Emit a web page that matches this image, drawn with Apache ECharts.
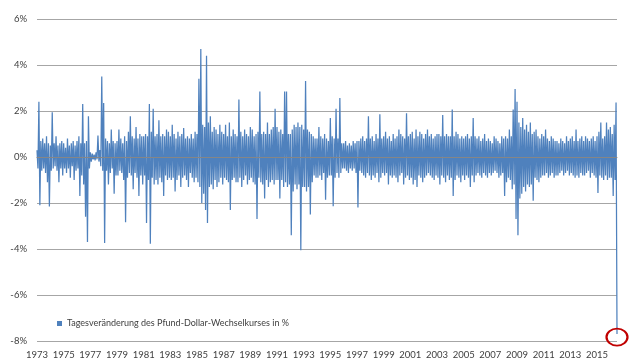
<!DOCTYPE html>
<html><head><meta charset="utf-8">
<script src="https://cdn.jsdelivr.net/npm/echarts@6/dist/echarts.min.js"></script>
<style>html,body{margin:0;padding:0;background:#fff}#c{width:640px;height:360px}</style>
</head><body><div id="c"></div>
<script>
const firstYear = 1973;
const samplesPerYear = 14;
const yearLabels = [1973,1975,1977,1979,1981,1983,1985,1987,1989,1991,1993,1995,1997,1999,2001,2003,2005,2007,2009,2011,2013,2015];
const seriesName = 'Tagesveränderung des Pfund-Dollar-Wechselkurses in %';

// daily change (%), 14 samples per year (one row per year)
const chg1970s = [
  0.3,-0.5,2.4,-2.1,0.7,-0.6,0.8,-0.5,0.6,-0.7,0.9,-1.1,0.6,-2.15,
  0.5,-0.6,1.95,-0.5,0.6,-0.4,0.9,-0.6,0.5,-1.1,0.6,-0.5,0.7,-0.8,
  0.6,-0.5,0.4,-0.7,0.8,-0.5,0.5,-0.9,0.6,-0.4,0.7,-1.0,0.5,-0.6,
  0.7,-0.5,0.9,-1.7,0.6,-0.8,2.3,-1.2,0.6,-2.6,0.7,-3.7,1.77,-0.5,
  0.2,-0.2,0.15,-0.1,0.1,-0.15,0.2,-0.1,0.93,-0.2,0.3,-0.4,3.5,-0.6,
  2.35,-3.74,0.8,-0.6,0.7,-1.2,0.6,-0.7,1.2,-0.5,0.7,-1.6,0.6,-0.8,
  0.7,-0.8,1.2,-0.6,0.8,-0.7,0.6,-1.0,0.9,-2.84,0.7,-0.9,1.1,-0.7
];
const chg1980s = [
  1.77,-0.8,0.9,-1.4,0.8,-0.7,1.3,-0.9,0.8,-1.7,1.0,-0.8,0.9,-1.2,
  0.9,-0.8,1.0,-2.87,0.9,-1.0,2.3,-3.77,1.1,-0.9,2.1,-1.2,0.9,-1.0,
  1.0,-1.2,1.6,-0.9,0.9,-1.1,1.0,-1.7,0.9,-0.8,1.2,-1.0,1.1,-0.9,
  0.9,-1.0,1.4,-0.9,1.0,-1.5,0.8,-1.0,1.1,-0.8,0.9,-1.3,1.0,-0.9,
  1.26,-0.8,0.8,-1.0,0.9,-1.3,0.8,-0.7,1.0,-0.9,0.8,-1.1,1.1,-0.9,
  1.0,-1.1,3.4,-1.3,4.7,-2.0,1.4,-1.6,1.3,-2.3,4.4,-2.87,1.5,-1.3,
  1.77,-1.2,1.1,-1.4,1.3,-1.0,1.2,-1.3,1.0,-1.1,1.4,-0.9,1.1,-1.2,
  1.0,-0.9,1.4,-1.0,0.9,-1.1,1.5,-2.3,0.9,-1.0,1.2,-0.9,1.0,-1.1,
  0.9,-1.1,2.5,-0.9,1.1,-1.3,0.9,-1.0,1.2,-0.8,1.0,-1.2,0.9,-1.0,
  1.3,-0.9,1.2,-1.1,0.9,-1.2,1.0,-2.7,1.1,-0.9,2.85,-1.1,1.0,-1.2
];
const chg1990s = [
  1.1,-1.8,1.0,-1.0,1.5,-1.3,1.0,-1.1,1.2,-1.0,1.3,-1.2,2.1,-1.0,
  1.3,-1.0,1.1,-1.8,1.2,-1.0,1.0,-1.3,2.85,-1.1,2.85,-1.3,1.0,-1.2,
  1.0,-3.4,1.2,-1.5,1.4,-1.2,1.3,-1.4,1.5,-1.2,1.3,-4.05,1.4,-1.3,
  1.2,-1.3,3.3,-1.5,1.2,-1.3,1.1,-2.5,1.0,-1.1,0.9,-0.8,0.8,-0.9,
  0.8,-0.9,1.3,-0.8,0.9,-1.0,0.8,-0.7,1.0,-1.86,0.8,-0.9,0.7,-0.8,
  1.7,-0.8,0.9,-2.14,0.8,-0.9,2.1,-0.7,0.8,-0.9,2.56,-0.7,0.6,-0.5,
  0.6,-0.5,0.7,-0.6,0.5,-0.7,0.6,-0.5,0.5,-0.6,0.7,-0.5,0.6,-0.7,
  0.7,-2.2,0.7,-0.6,0.8,-0.7,0.9,-0.8,0.7,-0.9,0.8,-0.7,1.77,-0.8,
  0.8,-1.0,0.9,-0.8,0.7,-0.9,1.0,-0.7,0.8,-1.1,1.86,-0.9,0.8,-0.7,
  0.9,-0.8,1.1,-0.7,0.8,-1.2,0.9,-0.8,0.7,-0.9,1.0,-0.8,0.8,-0.9
];
const chg2000s = [
  0.9,-1.1,1.2,-0.8,1.0,-0.7,0.9,-1.2,0.8,-0.9,1.9,-0.8,0.9,-1.0,
  1.0,-0.9,1.1,-1.2,0.8,-1.0,1.2,-1.3,0.9,-0.8,1.1,-0.9,1.0,-1.1,
  0.8,-0.9,1.0,-0.8,1.2,-0.7,0.9,-0.8,1.0,-0.9,0.8,-1.0,0.9,-0.8,
  1.0,-0.9,1.0,-1.2,0.9,-0.8,1.83,-0.9,0.9,-1.1,1.0,-0.8,0.9,-1.0,
  0.9,-0.9,2.07,-1.7,0.9,-1.0,1.1,-0.8,1.0,-0.9,0.8,-1.1,0.9,-0.8,
  0.8,-1.0,0.9,-0.8,1.0,-0.9,0.8,-1.3,0.9,-0.8,1.7,-1.1,0.9,-0.8,
  0.8,-0.7,0.9,-0.8,0.7,-0.9,0.8,-0.7,1.0,-0.8,0.7,-0.9,0.8,-0.7,
  0.7,-0.8,0.6,-0.7,0.9,-0.6,0.8,-0.7,0.7,-0.9,0.6,-0.8,0.9,-0.7,
  0.8,-1.7,0.9,-1.1,0.8,-0.9,1.2,-1.0,0.9,-1.4,2.06,-1.2,2.96,-2.7,
  2.4,-3.4,1.5,-1.8,1.3,-1.6,1.7,-1.3,1.2,-1.5,1.4,-1.2,1.1,-1.3
];
const chg2010s = [
  1.5,-1.2,1.0,-1.9,1.1,-0.9,1.2,-1.0,0.9,-1.1,0.8,-0.9,1.0,-0.8,
  0.9,-0.8,1.2,-0.7,0.8,-0.9,0.7,-0.8,0.9,-0.7,0.8,-0.9,0.7,-0.8,
  0.7,-0.8,0.6,-0.7,0.8,-0.6,0.7,-0.8,0.6,-0.7,0.9,-0.6,0.7,-0.8,
  0.8,-0.7,0.9,-0.8,0.7,-0.9,1.2,-0.8,0.7,-0.9,0.8,-0.7,0.9,-0.8,
  0.7,-0.8,0.9,-0.7,0.8,-0.6,0.7,-0.9,0.8,-0.7,0.9,-0.8,0.7,-0.9,
  0.9,-1.57,1.1,-0.8,1.5,-0.9,0.8,-1.0,0.9,-0.8,1.5,-1.0,1.2,-0.9,
  1.3,-0.9,1.0,-1.7,1.4,-1.0,2.37,-7.7
];

const values = [].concat(chg1970s, chg1980s, chg1990s, chg2000s, chg2010s);
const data = values.map((v, i) => [firstYear + i / samplesPerYear, v]);
const last = data[data.length - 1];

const chart = echarts.init(document.getElementById('c'), null, {renderer: 'canvas'});
const font = 'Lato';
chart.setOption({
  animation: false,
  backgroundColor: '#ffffff',
  grid: {left: 37, right: 23, top: 19, bottom: 19, containLabel: false},
  legend: {
    data: [seriesName],
    left: 52, top: 314,
    icon: 'rect', itemWidth: 5, itemHeight: 5,
    textStyle: {fontFamily: font, fontSize: 9, color: '#404040'}
  },
  xAxis: [{
    type: 'value', min: firstYear, max: 'dataMax', position: 'bottom',
    axisLine: {show: false, onZero: false},
    axisTick: {show: false},
    splitLine: {show: false},
    axisLabel: {customValues: yearLabels, color: '#404040', fontFamily: font, fontSize: 9.5, margin: 9,
      formatter: v => String(Math.round(v))}
  }, {
    type: 'value', min: firstYear, max: 'dataMax', position: 'top', z: 5,
    axisLine: {show: true, onZero: true, lineStyle: {color: '#868686', width: 1}},
    axisTick: {show: true, inside: true, length: 3, customValues: yearLabels, lineStyle: {color: '#868686'}},
    axisLabel: {show: false},
    splitLine: {show: false}
  }],
  yAxis: {
    type: 'value', min: -8, max: 6, interval: 2,
    axisLine: {show: false}, axisTick: {show: false},
    splitLine: {lineStyle: {color: '#A6A6A6', width: 1}},
    axisLabel: {formatter: '{value}%', color: '#404040', fontFamily: font, fontSize: 9.5, margin: 10}
  },
  series: [{
    name: seriesName, type: 'line', xAxisIndex: 0,
    data: data, showSymbol: false, symbol: 'none',
    lineStyle: {color: '#4F81BD', width: 1.25},
    itemStyle: {color: '#4F81BD'},
    markPoint: {
      silent: true,
      symbol: 'circle', symbolSize: [21, 17], symbolOffset: [0, 3],
      itemStyle: {color: 'rgba(0,0,0,0)', borderColor: '#C00000', borderWidth: 2},
      label: {show: false},
      data: [{coord: last}]
    }
  }]
});
</script></body></html>
